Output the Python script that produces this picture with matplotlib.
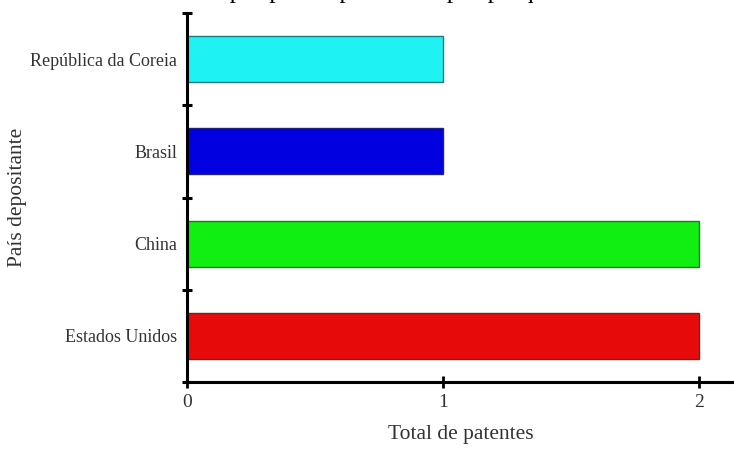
import matplotlib
matplotlib.use("Agg")
import matplotlib.pyplot as plt
import numpy as np

countries = ["Estados Unidos", "China", "Brasil", "República da Coreia"]
totals = [2, 2, 1, 1]
colors = ["#e60a0a", "#11ee11", "#0000e0", "#1ef2f2"]
edges = ["#7a2020", "#207a20", "#20207a", "#207a7a"]
xticks = [0, 1, 2]

plt.rcParams['font.family'] = ['Liberation Serif', 'DejaVu Serif']

W, H = 734, 450
fig = plt.figure(figsize=(W / 100, H / 100), dpi=100)
ax = fig.add_axes([187 / W, (H - 382) / H, (W - 187) / W, (382 - 13) / H])

y = np.arange(len(countries))
ax.barh(y, totals, height=0.5, color=colors, edgecolor=edges, linewidth=1.0)

ax.set_ylim(-0.5, len(countries) - 0.5)
ax.set_xlim(0, (W - 187) / 256)

ax.set_yticks(y)
ax.set_yticklabels(countries, fontsize=13, color="#333333")
ax.set_yticks(np.arange(len(countries) + 1) - 0.5, minor=True)
ax.tick_params(axis='y', which='major', length=0, pad=7)
ax.tick_params(axis='y', which='minor', direction='inout', length=7, width=2.2, color='black')

ax.set_xticks(xticks)
ax.set_xticklabels([str(t) for t in xticks], fontsize=14, color="#333333")
ax.tick_params(axis='x', which='major', direction='inout', length=9, width=2, pad=4)

for s in ['top', 'right']:
    ax.spines[s].set_visible(False)
for s in ['left', 'bottom']:
    ax.spines[s].set_linewidth(2.2)

ax.set_xlabel("Total de patentes", fontsize=15.5, color="#333333", labelpad=10)
fig.text(18 / W, 1 - 197 / H, "País depositante", rotation=90, fontsize=15.5,
         color="#333333", ha='center', va='center')

fig.text(-93 / W, 1 + 1.5 / H,
         "Figura 5 – Patentes de interesse por país depositante após pesquisa nas bases de dados",
         fontsize=18, color="black", ha='left', va='baseline')

fig.savefig("out.png", dpi=100)
